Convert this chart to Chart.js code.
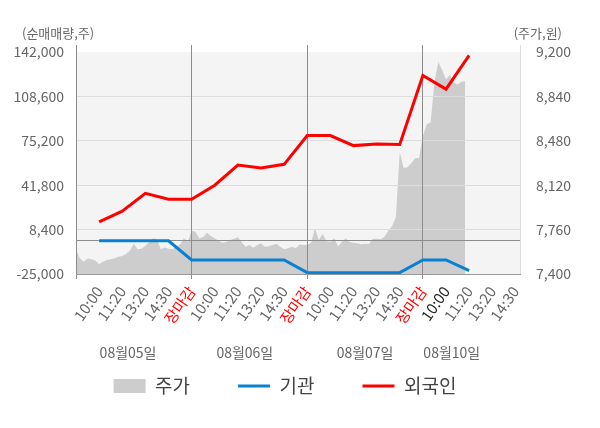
<!DOCTYPE html>
<html>
<head>
<meta charset="utf-8">
<script src="https://cdn.jsdelivr.net/npm/chart.js@4/dist/chart.umd.min.js"></script>
<style>
  body { margin: 0; background: #fff; }
  #wrap { width: 600px; height: 428px; position: relative; }
</style>
</head>
<body>
<div id="wrap"><canvas id="chart"></canvas></div>
<script>
// tick labels along the bottom, one per slot (day boundaries at 5, 10, 15)
const timeLabels = [
  '10:00', '11:20', '13:20', '14:30', '장마감',
  '10:00', '11:20', '13:20', '14:30', '장마감',
  '10:00', '11:20', '13:20', '14:30', '장마감',
  '10:00', '11:20', '13:20', '14:30'
];
const dateLabels = ['08월05일', '08월06일', '08월07일', '08월10일'];
const datePos = [2.25, 7.3, 12.5, 16.25];

// net buying (주)
const instNet = [0, 0, 0, 0, -14400, -14400, -14400, -14400, -14400, -24000,
  -24000, -24000, -24000, -24000, -14400, -14400, -22500];
const foreignNet = [14200, 22300, 35700, 31200, 31200, 41800, 57000, 54700, 57500, 79200,
  79200, 71600, 72900, 72400, 124300, 114100, 139500];

// intraday price (원), sampled evenly through each day
const priceDay1 = [7600, 7527, 7500, 7525, 7520, 7510, 7480, 7500, 7513, 7520,
  7527, 7540, 7545, 7562, 7590, 7645, 7600, 7605, 7630, 7660,
  7689, 7681, 7600, 7615, 7605, 7600, 7621, 7640, 7689, 7662];
const priceDay2 = [7751, 7743, 7690, 7700, 7735, 7708, 7689, 7670, 7654, 7660,
  7676, 7685, 7697, 7660, 7621, 7635, 7613, 7635, 7649, 7620,
  7625, 7635, 7645, 7621, 7600, 7608, 7621, 7608, 7640, 7635];
const priceDay3 = [7635, 7654, 7770, 7676, 7724, 7665, 7662, 7689, 7625, 7662,
  7689, 7660, 7654, 7649, 7641, 7645, 7643, 7685, 7685, 7681,
  7700, 7750, 7790, 7860, 8390, 8260, 8265, 8298, 8340, 8338];
const priceDay4 = [8520, 8614, 8630, 8950, 9120, 9054, 8980, 9013, 8955, 8935, 8960, 8965];

const leftTicks = [-25000, 0, 8400, 41800, 75200, 108600, 142000];
const rightTicks = [7400, 7760, 8120, 8480, 8840, 9200];

const SLOTS_PER_DAY = 5;
const SAMPLES_PER_DAY = 30;
const LEGEND_GAP = 48;
const LEGEND_ROW_Y = 386;
const LEGEND_FONT = 19;

const FONT = '"Noto Sans CJK KR", "Noto Sans", sans-serif';
Chart.defaults.font.family = FONT;
Chart.defaults.color = '#666';

const priceData = [priceDay1, priceDay2, priceDay3, priceDay4].flatMap((day, d) =>
  day.map((v, i) => ({ x: d * SLOTS_PER_DAY + i * SLOTS_PER_DAY / SAMPLES_PER_DAY, y: v })));

const chartDecor = {
  id: 'chartDecor',
  afterLayout(chart) {
    // labels.padding also pads the legend from its top; pull the row back up
    // and drop the trailing gap that pushes the row off centre
    const lg = chart.legend;
    lg.top = LEGEND_ROW_Y - LEGEND_FONT / 2 - LEGEND_GAP;
    lg.right -= 30;
  },
  beforeDraw(chart) {
    const { ctx, scales: { x, y } } = chart;
    const top = y.getPixelForValue(142000);
    ctx.save();
    ctx.fillStyle = '#f4f4f4';
    ctx.fillRect(x.left, top, x.right - x.left, y.bottom - top);
    ctx.restore();
  },
  afterDatasetDraw(chart, args) {
    // grid goes on top of the price area, under the lines
    if (args.index !== 0) return;
    const area = chart.chartArea;
    ['y', 'x'].forEach(id => {
      const s = chart.scales[id];
      s.drawGrid(area);
      if (s.drawBorder) s.drawBorder();
    });
  },
  afterDraw(chart) {
    const ctx = chart.ctx;
    ctx.save();
    ctx.font = '13px ' + FONT;
    ctx.fillStyle = '#666';
    ctx.textBaseline = 'middle';
    ctx.textAlign = 'left';
    ctx.fillText('(순매매량,주)', 22, 33);
    ctx.textAlign = 'right';
    ctx.fillText('(주가,원)', 562, 33);
    ctx.restore();
  }
};

new Chart(document.getElementById('chart'), {
  type: 'line',
  data: {
    datasets: [
      {
        label: '주가',
        data: priceData,
        yAxisID: 'y2',
        backgroundColor: '#cdcdcd',
        borderWidth: 0,
        pointRadius: 0,
        fill: 'start',
        order: 1,
        pointStyle: 'rect'
      },
      {
        label: '기관',
        data: instNet.map((v, i) => ({ x: i + 1, y: v })),
        yAxisID: 'y',
        borderColor: '#0a80d0',
        backgroundColor: '#0a80d0',
        borderWidth: 3,
        pointRadius: 0,
        order: 0,
        pointStyle: 'line'
      },
      {
        label: '외국인',
        data: foreignNet.map((v, i) => ({ x: i + 1, y: v })),
        yAxisID: 'y',
        borderColor: '#ff0000',
        backgroundColor: '#ff0000',
        borderWidth: 3,
        pointRadius: 0,
        order: 0,
        pointStyle: 'line'
      }
    ]
  },
  options: {
    responsive: true,
    maintainAspectRatio: false,
    animation: false,
    layout: { padding: { top: 45, left: 0, right: 0, bottom: 20 } },
    plugins: {
      legend: {
        position: 'bottom',
        maxHeight: 40,
        labels: {
          usePointStyle: true,
          pointStyleWidth: 32,
          boxHeight: 14,
          padding: LEGEND_GAP,
          color: '#444',
          font: { size: LEGEND_FONT },
          sort: (a, b) => a.datasetIndex - b.datasetIndex
        }
      },
      tooltip: { enabled: false }
    },
    scales: {
      x: {
        type: 'linear',
        min: 0,
        max: 19.2,
        afterBuildTicks: s => { s.ticks = Array.from({ length: 20 }, (_, i) => ({ value: i })); },
        afterFit: s => { s.height = 64; },
        grid: {
          color: c => (c.tick && c.tick.value % SLOTS_PER_DAY === 0) ? '#8c8c8c' : 'rgba(0,0,0,0)',
          tickLength: 5
        },
        border: { color: '#999' },
        ticks: {
          autoSkip: false,
          minRotation: 55,
          maxRotation: 55,
          padding: 4,
          font: { size: 15 },
          callback: v => v === 0 ? '' : timeLabels[v - 1],
          color: c => {
            const l = timeLabels[c.tick.value - 1];
            if (l === '장마감') return '#ff0000';
            if (c.tick.value === 16) return '#222';
            return '#666';
          }
        }
      },
      xd: {
        type: 'linear',
        position: 'bottom',
        weight: 1,
        min: 0,
        max: 19.2,
        afterBuildTicks: s => { s.ticks = datePos.map(v => ({ value: v })); },
        afterFit: s => { s.height = 30; },
        grid: { display: false, drawTicks: false },
        border: { display: false },
        ticks: {
          autoSkip: false,
          maxRotation: 0,
          padding: 6,
          font: { size: 14 },
          color: '#666',
          callback: (v, i) => dateLabels[i]
        }
      },
      y: {
        position: 'left',
        min: -25000,
        max: 147300,
        afterBuildTicks: s => { s.ticks = leftTicks.map(v => ({ value: v })); },
        afterFit: s => { s.width = 76; },
        grid: {
          drawTicks: false,
          color: c => {
            const v = c.tick.value;
            if (v === 0) return '#8c8c8c';
            if (v === 142000) return 'rgba(0,0,0,0)';
            return '#dddddd';
          }
        },
        border: { color: '#8c8c8c' },
        ticks: {
          padding: 12,
          font: { size: 14 },
          color: '#666',
          callback: v => v === 0 ? '' : v.toLocaleString('en-US')
        }
      },
      y2: {
        position: 'right',
        min: 7400,
        max: 9257,
        afterBuildTicks: s => { s.ticks = rightTicks.map(v => ({ value: v })); },
        afterFit: s => { s.width = 80; },
        grid: { display: false },
        border: { color: '#dddddd' },
        ticks: {
          padding: 8,
          font: { size: 14 },
          color: '#666',
          callback: v => v.toLocaleString('en-US')
        }
      }
    }
  },
  plugins: [chartDecor]
});
</script>
</body>
</html>
